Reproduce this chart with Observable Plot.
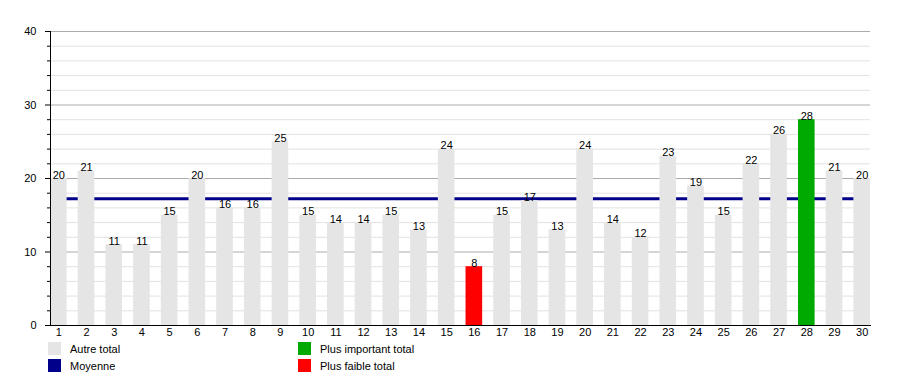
<!DOCTYPE html>
<html><head><meta charset="utf-8">
<script src="https://cdn.jsdelivr.net/npm/d3@7"></script>
<script src="https://cdn.jsdelivr.net/npm/@observablehq/plot@0.6"></script>
<style>
body{margin:0;background:#fff;font-family:"Liberation Sans",Arial,sans-serif}
#wrap{position:relative;width:900px;height:375px;overflow:hidden}
.sw{position:absolute;width:13px;height:13px}
.lb{position:absolute;font-size:11px;line-height:13px;color:#000;white-space:nowrap}
</style></head><body><div id="wrap"></div>
<script>
const jours = [1,2,3,4,5,6,7,8,9,10,11,12,13,14,15,16,17,18,19,20,21,22,23,24,25,26,27,28,29,30];
const valeurs = [20,21,11,11,15,20,16,16,25,15,14,14,15,13,24,8,15,17,13,24,14,12,23,19,15,22,26,28,21,20];
const moyenne = 17.25;
const majorTicks = [0,10,20,30,40];
const minorTicks = [2,4,6,8,12,14,16,18,22,24,26,28,32,34,36,38];
const legendLabels = ["Autre total","Moyenne","Plus important total","Plus faible total"];
const colors = {autre:"#e5e5e5", moyenne:"#00008b", max:"#00aa00", min:"#ff0000"};

const maxV = d3.max(valeurs), minV = d3.min(valeurs);
const data = jours.map((j,i)=>({jour:j, valeur:valeurs[i],
  cat: valeurs[i]===maxV ? "max" : valeurs[i]===minV ? "min" : "autre"}));

const half = 0.3; // half bar width, in day units (bars fill 60% of a day slot)
const chart = Plot.plot({
  width:900, height:340,
  marginLeft:50, marginRight:30, marginTop:31, marginBottom:15,
  style:{fontFamily:"'Liberation Sans', Arial, sans-serif", fontSize:"11px", color:"#000", background:"#fff"},
  x:{type:"linear", domain:[jours[0]-half, jours[jours.length-1]+half], label:null},
  y:{domain:[0,40], label:null},
  marks:[
    Plot.ruleY(minorTicks, {stroke:"#e2e2e2", strokeWidth:1}),
    Plot.ruleY(majorTicks.filter(d=>d>0), {stroke:"#ababab", strokeWidth:1}),
    Plot.ruleY([moyenne], {stroke:colors.moyenne, strokeWidth:3}),
    Plot.rectY(data, {x1:d=>d.jour-half, x2:d=>d.jour+half, y:"valeur", fill:d=>colors[d.cat]}),
    Plot.text(data, {x:"jour", y:"valeur", text:d=>String(d.valeur), lineAnchor:"bottom", dy:0, fontSize:11, fill:"#000"}),
    Plot.axisY(minorTicks, {tickSize:3, tickFormat:()=>"", stroke:"#000", label:null}),
    Plot.axisY(majorTicks, {tickSize:5, tickPadding:9, fontSize:11, stroke:"#000", label:null}),
    Plot.axisX(jours, {tickSize:0, tickPadding:3, fontSize:11, tickFormat:d=>String(d), label:null}),
    Plot.frame({anchor:"left", stroke:"#000"}),
    Plot.frame({anchor:"bottom", stroke:"#000"})
  ]
});
const wrap = document.getElementById("wrap");
chart.style.position="absolute"; chart.style.left="0"; chart.style.top="0";
wrap.appendChild(chart);

const items = [
  {label:legendLabels[0], color:colors.autre, x:48, y:342},
  {label:legendLabels[1], color:colors.moyenne, x:48, y:359},
  {label:legendLabels[2], color:colors.max, x:298, y:342},
  {label:legendLabels[3], color:colors.min, x:298, y:359}
];
for (const it of items){
  const s=document.createElement("div"); s.className="sw";
  s.style.left=it.x+"px"; s.style.top=it.y+"px"; s.style.background=it.color;
  wrap.appendChild(s);
  const t=document.createElement("div"); t.className="lb";
  t.style.left=(it.x+22)+"px"; t.style.top=(it.y+1)+"px"; t.textContent=it.label;
  wrap.appendChild(t);
}
</script></body></html>
